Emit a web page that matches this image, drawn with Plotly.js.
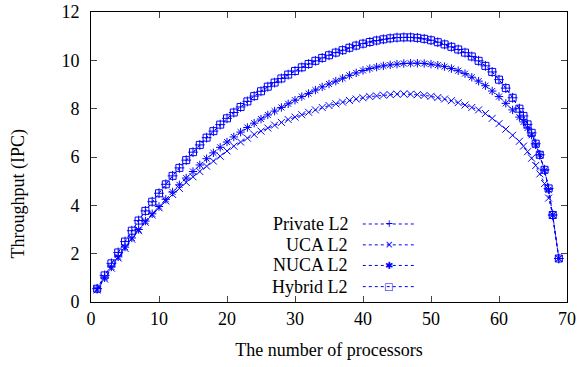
<!DOCTYPE html>
<html>
<head>
<meta charset="utf-8">
<script src="https://cdn.plot.ly/plotly-3.0.1.min.js"></script>
<style>html,body{margin:0;padding:0;background:#fff;}#chart{width:579px;height:367px;}</style>
</head>
<body>
<div id="chart"></div>
<script>
// Number of processors (x values shared by all series)
const processors = [0.9,2,3,4,5,6,7,8,9,10,11,12,13,14,15,16,17,18,19,20,
  21,22,23,24,25,26,27,28,29,30,31,32,33,34,35,36,37,38,39,40,
  41,42,43,44,45,46,47,48,49,50,51,52,53,54,55,56,57,58,59,60,
  61,62,63,63.6,64.2,64.8,65.4,66.0,66.7,67.3,67.9,68.8];

const privateL2 = [0.55,1.1,1.6,2.05,2.5,2.95,3.37,3.77,4.15,4.5,4.87,5.22,5.55,5.87,6.2,6.5,6.8,7.07,7.34,7.6,
  7.84,8.07,8.3,8.52,8.72,8.91,9.08,9.25,9.41,9.56,9.71,9.85,9.98,10.1,10.21,10.32,10.42,10.52,10.61,10.69,
  10.76,10.82,10.87,10.91,10.94,10.95,10.95,10.93,10.89,10.83,10.75,10.66,10.56,10.45,10.32,10.16,9.98,9.77,9.52,9.2,
  8.85,8.45,8.0,7.7,7.35,7.0,6.55,6.09,5.47,4.7,3.6,1.8];

const ucaL2 = [0.5,0.95,1.4,1.82,2.22,2.6,2.95,3.3,3.6,3.9,4.18,4.45,4.7,4.95,5.18,5.4,5.62,5.83,6.03,6.25,
  6.45,6.62,6.78,6.93,7.07,7.2,7.32,7.43,7.55,7.65,7.75,7.85,7.95,8.05,8.13,8.2,8.27,8.34,8.4,8.45,
  8.5,8.53,8.56,8.58,8.6,8.61,8.6,8.58,8.55,8.51,8.46,8.4,8.33,8.25,8.15,8.05,7.95,7.8,7.6,7.38,
  7.15,6.9,6.65,6.45,6.22,5.95,5.65,5.3,4.9,4.3,3.6,1.8];

const nucaL2 = [0.55,1.0,1.45,1.87,2.27,2.65,3.0,3.35,3.65,3.95,4.25,4.55,4.85,5.13,5.4,5.67,5.93,6.17,6.4,6.62,
  6.83,7.03,7.22,7.4,7.57,7.74,7.9,8.05,8.2,8.35,8.5,8.63,8.77,8.9,9.02,9.14,9.26,9.38,9.48,9.58,
  9.66,9.72,9.77,9.81,9.84,9.87,9.88,9.88,9.87,9.84,9.8,9.74,9.66,9.57,9.45,9.3,9.14,8.95,8.73,8.5,
  8.22,7.95,7.65,7.45,7.2,6.9,6.5,6.09,5.45,4.65,3.6,1.8];

const hybridL2 = [0.55,1.1,1.6,2.05,2.5,2.95,3.37,3.77,4.15,4.5,4.87,5.22,5.55,5.87,6.2,6.5,6.8,7.07,7.34,7.6,
  7.84,8.07,8.3,8.52,8.72,8.91,9.08,9.25,9.41,9.56,9.71,9.85,9.98,10.1,10.21,10.32,10.42,10.52,10.61,10.69,
  10.76,10.82,10.87,10.91,10.94,10.95,10.95,10.93,10.89,10.83,10.75,10.66,10.56,10.45,10.32,10.16,9.98,9.77,9.52,9.2,
  8.85,8.45,8.0,7.7,7.35,7.0,6.55,6.09,5.47,4.7,3.6,1.8];

const seriesNames = ['Private L2','UCA L2','NUCA L2','Hybrid L2'];
const seriesData = [privateL2, ucaL2, nucaL2, hybridL2];
const seriesSymbols = ['cross-thin-open','x-thin-open','asterisk-open','square-open'];
const legendGlyphs = ['+','\u00d7','\u2731','\u25a1'];
const blue = '#0000ff';
const serif = "'Liberation Serif', 'Times New Roman', Times, serif";

const traces = seriesData.map((ys, i) => ({
  x: processors, y: ys, type: 'scatter', mode: 'lines+markers', name: seriesNames[i],
  line: {color: blue, width: 1, dash: 'dot'},
  marker: {symbol: seriesSymbols[i], size: 7, color: blue, line: {color: blue, width: 1}},
  showlegend: false
}));

// custom gnuplot-style key (text right-aligned, sample on the right)
const keyRows = [0.269, 0.197, 0.126, 0.053];
const shapes = [];
const annotations = [];
seriesNames.forEach((n, i) => {
  annotations.push({xref:'paper', yref:'paper', x:0.544, y:keyRows[i], text:n, showarrow:false,
    xanchor:'right', yanchor:'middle', font:{family: serif, size:18, color:'#000'}});
  shapes.push({type:'line', xref:'paper', yref:'paper', x0:0.571, x1:0.682, y0:keyRows[i], y1:keyRows[i],
    line:{color: blue, width:1, dash:'dot'}});
  annotations.push({xref:'paper', yref:'paper', x:0.626, y:keyRows[i], text:legendGlyphs[i], showarrow:false,
    xanchor:'center', yanchor:'middle', font:{family:'DejaVu Sans', size:10, color: blue}});
});

const font = {family: serif, size: 18, color: '#000'};

// y-axis label (placed like gnuplot's, slightly below the plot centre)
annotations.push({xref:'paper', yref:'paper', x:-0.153, y:0.375, text:'Throughput (IPC)', textangle:-90,
  showarrow:false, xanchor:'center', yanchor:'middle', font: font});

const layout = {
  width: 579, height: 367,
  margin: {l: 91, r: 12, t: 12, b: 65},
  paper_bgcolor: '#fff', plot_bgcolor: '#fff',
  font: font,
  showlegend: false,
  xaxis: {
    range: [0, 70], tickvals: [0,10,20,30,40,50,60,70],
    ticks: 'inside', ticklen: 6, tickcolor: '#444', mirror: 'ticks',
    showline: true, linecolor: '#000', linewidth: 1,
    showgrid: false, zeroline: false,
    title: {text: 'The number of processors', font: font, standoff: 15},
    tickfont: font
  },
  yaxis: {
    range: [0, 12], tickvals: [0,2,4,6,8,10,12],
    ticks: 'inside', ticklen: 6, tickcolor: '#444', mirror: 'ticks',
    showline: true, linecolor: '#000', linewidth: 1,
    showgrid: false, zeroline: false,
    ticklabelstandoff: 7,
    tickfont: font
  },
  shapes: shapes,
  annotations: annotations
};

Plotly.newPlot('chart', traces, layout, {staticPlot: true, displayModeBar: false});
</script>
</body>
</html>
